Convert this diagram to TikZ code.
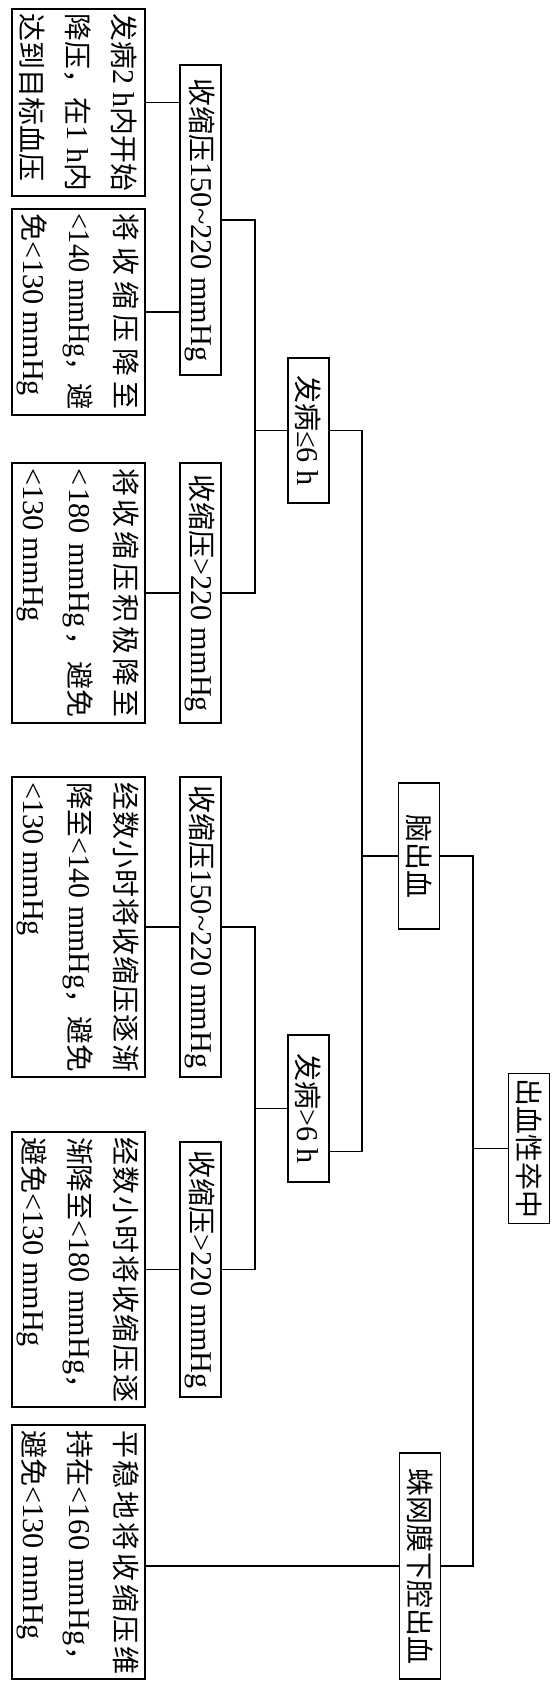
\documentclass[tikz,border=0pt]{standalone}
\usepackage{fontspec}
\setmainfont{Liberation Serif}[Scale=1.08]
\newfontfamily\cjk{Noto Sans CJK SC}
\usepackage{graphicx}
\usetikzlibrary{calc}
\newcommand\zh[1]{{\cjk #1}}
\newsavebox\lnbox
\newcommand\Ln[2]{\sbox\lnbox{#2}\ifdim\wd\lnbox>#1pt\relax\resizebox{#1pt}{\height}{\usebox\lnbox}\else\makebox[#1pt][l]{#2}\fi}
\newcommand\fs{\fontsize{28}{46}\selectfont}
\tikzset{
  box/.style={draw, line width=1.4pt, rotate=-90, inner ysep=0pt, inner xsep=5pt, font=\fs},
  leaf/.style={box, minimum height=133pt, align=left},
  lab/.style={box, minimum height=41pt, align=center},
  conn/.style={line width=1.1pt}
}
\begin{document}
\begin{tikzpicture}[x=1pt,y=-1pt]
\useasboundingbox (0,0) rectangle (555,1689);
% leaves
\node[leaf, minimum width=187pt] (l1) at (78.5,102.5)
 {\Ln{177}{\zh{发病}2 h\zh{内开始}}\\\Ln{177}{\zh{降压，在}1 h\zh{内}}\\\Ln{177}{\zh{达到目标血压}}};
\node[leaf, minimum width=206pt] (l2) at (78.5,312)
 {\Ln{196}{\zh{将\hfill 收\hfill 缩\hfill 压\hfill 降\hfill 至}}\\\Ln{196}{<140 mmHg\zh{，避}}\\\Ln{196}{\zh{免}<130 mmHg}};
\node[leaf, minimum width=260pt] (l3) at (78.5,593)
 {\Ln{250}{\zh{将\hfill 收\hfill 缩\hfill 压\hfill 积\hfill 极\hfill 降\hfill 至}}\\\Ln{250}{<\hfill 180\hfill{} mmHg\hfill\zh{，}\hfill\zh{避免}}\\\Ln{250}{<130 mmHg}};
\node[leaf, minimum width=300pt] (l4) at (78.5,927)
 {\Ln{290}{\zh{经\hfill 数\hfill 小\hfill 时\hfill 将\hfill 收\hfill 缩\hfill 压\hfill 逐\hfill 渐}}\\\Ln{290}{\zh{降至}<140\hfill{} mmHg\zh{，}\hfill\zh{避免}}\\\Ln{290}{<130 mmHg}};
\node[leaf, minimum width=275pt] (l5) at (78.5,1269.5)
 {\Ln{265}{\zh{经\hfill 数\hfill 小\hfill 时\hfill 将\hfill 收\hfill 缩\hfill 压\hfill 逐}}\\\Ln{265}{\zh{渐降至}<\hfill 1\hfill 8\hfill 0\hfill{} m\hfill m\hfill H\hfill g\zh{，}}\\\Ln{265}{\zh{避免}<130 mmHg}};
\node[leaf, minimum width=254pt] (l6) at (78.5,1552)
 {\Ln{244}{\zh{平\hfill 稳\hfill 地\hfill 将\hfill 收\hfill 缩\hfill 压\hfill 维}}\\\Ln{244}{\zh{持在}<\hfill 1\hfill 6\hfill 0\hfill{} m\hfill m\hfill H\hfill g\zh{，}}\\\Ln{244}{\zh{避免}<130 mmHg}};
% blood pressure nodes
\node[lab, minimum width=310pt] (s1) at (200.5,220) {\zh{收缩压}150\textasciitilde 220 mmHg};
\node[lab, minimum width=260pt] (s2) at (200.5,593) {\zh{收缩压}>220 mmHg};
\node[lab, minimum width=300pt] (s3) at (200.5,927) {\zh{收缩压}150\textasciitilde 220 mmHg};
\node[lab, minimum width=255pt] (s4) at (200.5,1269.5) {\zh{收缩压}>220 mmHg};
% onset nodes
\node[lab, minimum width=145pt] (on1) at (308.5,430.5) {\zh{发病}≤6 h};
\node[lab, minimum width=147pt] (on2) at (308.5,1108.5) {\zh{发病}>6 h};
% type nodes
\node[lab, minimum width=146pt] (brain) at (419,856) {\zh{脑出血}};
\node[lab, minimum width=226pt] (sub) at (420,1566) {\zh{蛛网膜下腔出血}};
\node[lab, minimum width=147pt] (root) at (529,1148.5) {\zh{出血性卒中}};
% junction columns
\coordinate (xa) at (255,0);
\coordinate (xb) at (362,0);
\coordinate (xc) at (473,0);
\coordinate (on2r) at ($(on2.north)+(0,43)$);
% leaf connectors
\draw[conn] (l1.north) -- (l1.north -| s1.south);
\draw[conn] (l2.north) -- (l2.north -| s1.south);
\draw[conn] (l3.north) -- (l3.north -| s2.south);
\draw[conn] (l4.north) -- (l4.north -| s3.south);
\draw[conn] (l5.north) -- (l5.north -| s4.south);
\draw[conn] (sub.south) -- (sub.south -| l6.north);
% brackets
\draw[conn] (s1.north) -| (xa |- on1.south) |- (s2.north);
\draw[conn] (xa |- on1.south) -- (on1.south);
\draw[conn] (s3.north) -| (xa |- on2.south) |- (s4.north);
\draw[conn] (xa |- on2.south) -- (on2.south);
\draw[conn] (on1.north) -| (xb |- brain.south) |- (on2r);
\draw[conn] (xb |- brain.south) -- (brain.south);
\draw[conn] (brain.north) -| (xc |- root.south) |- (sub.north);
\draw[conn] (xc |- root.south) -- (root.south);
\end{tikzpicture}
\end{document}
